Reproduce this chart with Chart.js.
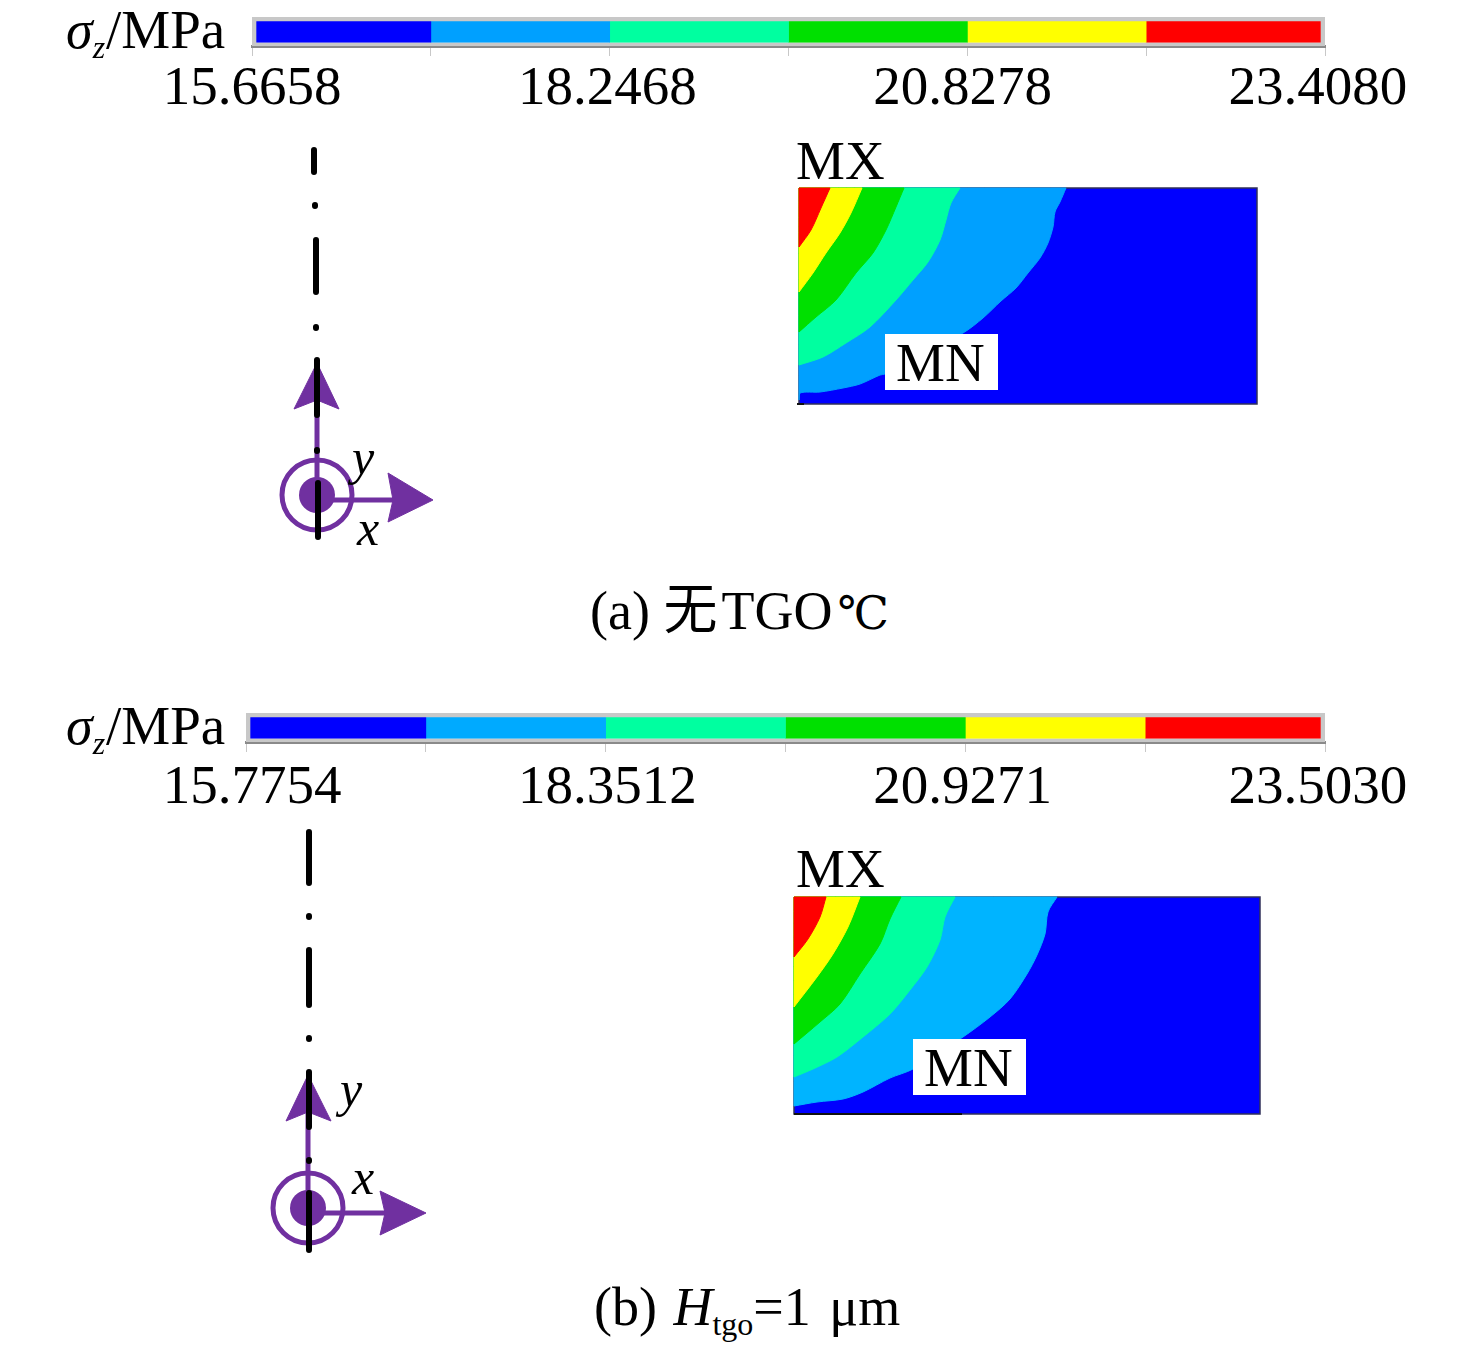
<!DOCTYPE html>
<html>
<head>
<meta charset="utf-8">
<script src="https://cdn.jsdelivr.net/npm/chart.js@4"></script>
<style>
	html, body { margin: 0; background: #fff; }
	body { position: relative; width: 1476px; height: 1354px; overflow: hidden; }
	canvas { position: absolute; }
	.t {
		position: absolute; white-space: nowrap; color: #000; line-height: 1; z-index: 3;
		font-family: "Liberation Serif", "Noto Sans CJK SC", serif; font-size: 55px;
	}
	.t i { font-style: italic; }
	.t sub { font-size: 32px; line-height: 0; vertical-align: baseline; position: relative; top: 10px; }
	.box { position: absolute; background: #fff; z-index: 2; }
</style>
</head>
<body>
<div class="t" style="left:66px;top:2px;font-size:54px"><i>σ<sub>z</sub></i><span style="margin-left:1px;font-size:55px">/MPa</span></div>
<div class="t" style="left:796px;top:133px">MX</div>
<div class="box" style="left:885px;top:334px;width:113px;height:56px"></div>
<div class="t" style="left:896px;top:335px">MN</div>
<div class="t" style="left:352px;top:432px;font-size:50px"><i>y</i></div>
<div class="t" style="left:357px;top:503px;font-size:50px"><i>x</i></div>
<div class="t" style="left:590px;top:584px;font-size:54px">(a) 无<span style="margin-left:4px">TGO</span><span style="font-family:'DejaVu Serif','Noto Sans CJK SC';font-size:46px;margin-left:5px">℃</span></div>

<div class="t" style="left:66px;top:698px;font-size:54px"><i>σ<sub>z</sub></i><span style="margin-left:1px;font-size:55px">/MPa</span></div>
<div class="t" style="left:796px;top:841px">MX</div>
<div class="box" style="left:913px;top:1039px;width:113px;height:56px"></div>
<div class="t" style="left:924px;top:1040px">MN</div>
<div class="t" style="left:340px;top:1064px;font-size:50px"><i>y</i></div>
<div class="t" style="left:352px;top:1152px;font-size:50px"><i>x</i></div>
<div class="t" style="left:594px;top:1280px;font-size:54px">(b) <i style="margin-left:3px">H</i><sub>tgo</sub>=1<span style="margin-left:5px"> μm</span></div>

<canvas id="barA" width="1476" height="118" style="left:0;top:0"></canvas>
<canvas id="fieldA" width="466" height="224" style="left:795px;top:184px"></canvas>
<canvas id="axesA" width="200" height="420" style="left:257px;top:135px"></canvas>
<canvas id="barB" width="1476" height="118" style="left:0;top:696px"></canvas>
<canvas id="fieldB" width="474" height="225" style="left:790px;top:893px"></canvas>
<canvas id="axesB" width="200" height="450" style="left:248px;top:818px"></canvas>

<script>
// contour band colours, lowest level first
const bandColorsA = ["#0000ff", "#00a0ff", "#00ffa0", "#00e000", "#ffff00", "#ff0000"];
const bandColorsB = ["#0000ff", "#00aaff", "#00ffa0", "#00e000", "#ffff00", "#ff0000"];
const fieldColorsB = ["#0000ff", "#00b4ff", "#00ffa0", "#00e000", "#ffff00", "#ff0000"];

// colour bar levels
const levelsA = [15.6658, 16.9562, 18.2468, 19.5372, 20.8278, 22.1176, 23.408];
const levelsB = [15.7754, 17.0633, 18.3512, 19.6392, 20.9271, 22.2151, 23.503];
const tickLabelsA = ["15.6658", "18.2468", "20.8278", "23.4080"];
const tickLabelsB = ["15.7754", "18.3512", "20.9271", "23.5030"];

// contour boundaries of panel (a): [distance from left, depth from top]
const boxA = [458, 216];
const lightBlueA = [[267, 0], [261, 14], [256, 24], [254, 39], [249, 55], [241, 70], [229, 85], [217, 100], [202, 113], [184, 130], [164, 145], [86, 186], [81, 187], [61, 196], [44, 200], [21, 204], [1, 205], [0, 212]];
const springA = [[161, 0], [152, 15], [147, 32], [141, 52], [129, 74], [114, 92], [97, 112], [71, 139], [47, 155], [24, 169], [0, 177]];
const greenA = [[105, 0], [97, 19], [87, 42], [74, 65], [57, 85], [37, 112], [17, 129], [0, 144]];
const yellowA = [[63, 0], [52, 25], [41, 45], [27, 65], [14, 85], [0, 104]];
const redA = [[31, 0], [22, 20], [12, 42], [0, 59]];
const edgeA = [[-2, 127], [-2, 216], [5, 216]];

// contour boundaries of panel (b)
const boxB = [466, 217];
const lightBlueB = [[263, 0], [254, 15], [251, 37], [243, 58], [233, 77], [216, 102], [196, 120], [169, 140], [119, 172], [96, 181], [69, 195], [49, 202], [23, 205], [0, 209]];
const springB = [[161, 0], [151, 20], [146, 43], [133, 70], [116, 93], [96, 117], [69, 140], [43, 160], [19, 172], [0, 180]];
const greenB = [[107, 0], [96, 22], [86, 47], [66, 77], [46, 107], [26, 125], [0, 147]];
const yellowB = [[66, 0], [54, 30], [39, 57], [23, 80], [0, 110]];
const redB = [[32, 0], [26, 20], [14, 42], [0, 60]];
const edgeB = [[0, 217], [168, 217]];

// coordinate symbol, origin on the circle centre
const centerLineA = [[-3, 345], [-3, 323], null, [-2, 290], [-2, 289], null, [-1, 255], [-1, 203], null, [-1, 168], [-1, 167], null, [0, 135], [0, 80], null, [0, 45], [0, 44], null, [1, 12], [1, -42]];
const upArrowA = [[0, 132], [-23, 86], [0, 95], [22, 86]];
const rightArrowA = [[71, 22], [116, -5], [71, -27], [76, -5]];
const centerLineB = [[1, 376], [1, 325], null, [1, 292], [1, 291], null, [1, 258], [1, 203], null, [1, 170], [1, 169], null, [1, 136], [1, 81], null, [1, 48], [1, 47], null, [1, 15], [1, -42]];
const upArrowB = [[0, 133], [-22, 87], [0, 96], [23, 87]];
const rightArrowB = [[72, 17], [118, -5], [72, -27], [77, -5]];

const purple = "#7030a0";
const serif = "'Liberation Serif', serif";

function toPoints(list) {
	return list.map((p) => (p ? { x: p[0], y: p[1] } : { x: null, y: null }));
}

const quiet = { legend: { display: false }, tooltip: { enabled: false } };

function createColorBar(id, levels, tickLabels, colors, labelMin, labelMax, padLeft, labelPad) {
	const tickValues = tickLabels.map(Number);
	const bands = colors.map((color, i) => ({
		data: [[levels[i], levels[i + 1]]],
		backgroundColor: color,
		barThickness: 22,
		borderWidth: 0,
	}));
	new Chart(document.getElementById(id), {
		type: "bar",
		data: {
			labels: ["σz"],
			datasets: [
				{
					// grey frame round the bar
					data: [[levels[0], levels[6]]],
					backgroundColor: "rgba(0,0,0,0)",
					borderColor: "#c8c8c8",
					borderWidth: { left: 4, right: 4, top: 4, bottom: 3 },
					borderSkipped: false,
					barPercentage: 1,
					categoryPercentage: 1,
				},
				...bands,
			],
		},
		options: {
			indexAxis: "y",
			responsive: false,
			animation: false,
			layout: { padding: { left: padLeft, right: 151, top: 17, bottom: 0 } },
			plugins: quiet,
			datasets: { bar: { grouped: false } },
			scales: {
				y: { display: false },
				x: {
					min: levels[0],
					max: levels[6],
					z: 1,
					position: "bottom",
					afterBuildTicks: (scale) => {
						scale.ticks = levels.map((value) => ({ value }));
					},
					afterFit: (scale) => {
						scale.height = 11;
					},
					ticks: { display: false },
					grid: { drawOnChartArea: false, color: "#c8c8c8", tickLength: 10 },
					border: { color: "#8a8a8a", width: 3 },
				},
				xLabels: {
					type: "linear",
					axis: "x",
					position: "bottom",
					min: labelMin,
					max: labelMax,
					afterBuildTicks: (scale) => {
						scale.ticks = tickValues.map((value) => ({ value }));
					},
					afterFit: (scale) => {
						scale.height = 61;
					},
					ticks: {
						autoSkip: false,
						maxRotation: 0,
						padding: labelPad,
						color: "#000",
						font: { family: serif, size: 55 },
						callback: (value, i) => tickLabels[i],
					},
					grid: { display: false },
					border: { display: false },
				},
			},
		},
	});
}

function createField(id, box, bandCurves, colors, edge) {
	const polygons = bandCurves.map((curve, i) => {
		const first = curve[0];
		const last = curve[curve.length - 1];
		return {
			// end points doubled so the smoothing leaves the box corners sharp
			data: toPoints([first, ...curve, last, [0, 0], [0, 0], first]),
			backgroundColor: colors[i + 1],
			borderColor: colors[i + 1],
			borderWidth: 1,
			tension: 0.3,
			fill: "shape",
			showLine: true,
			pointRadius: 0,
			clip: false,
		};
	});
	polygons.reverse();
	new Chart(document.getElementById(id), {
		type: "scatter",
		data: {
			datasets: [
				{ data: toPoints(edge), borderColor: "#111", borderWidth: 2, showLine: true, pointRadius: 0, clip: false },
				...polygons,
				{
					data: toPoints([[0, 0], [box[0], 0], [box[0], box[1]], [0, box[1]], [0, 0]]),
					backgroundColor: colors[0],
					borderColor: "#30305a",
					borderWidth: 1.5,
					fill: "shape",
					showLine: true,
					pointRadius: 0,
					clip: false,
				},
			],
		},
		options: {
			responsive: false,
			animation: false,
			layout: { padding: 4, autoPadding: false },
			plugins: quiet,
			scales: {
				x: { display: false, min: 0, max: box[0] },
				y: { display: false, min: 0, max: box[1], reverse: true },
			},
		},
	});
}

function createAxesSymbol(id, centerLine, upArrow, rightArrow, top) {
	const arrow = (pts) => ({
		data: toPoints([...pts, pts[0]]),
		backgroundColor: purple,
		borderColor: purple,
		borderWidth: 1,
		fill: "shape",
		showLine: true,
		pointRadius: 0,
	});
	const tipY = upArrow[2][1];
	const stemY = rightArrow[3][1];
	new Chart(document.getElementById(id), {
		type: "scatter",
		data: {
			datasets: [
				{
					data: toPoints(centerLine),
					borderColor: "#000",
					borderWidth: 6,
					borderCapStyle: "round",
					showLine: true,
					pointRadius: 0,
				},
				arrow(upArrow),
				arrow(rightArrow),
				{ data: toPoints([[0, 0], [0, tipY]]), borderColor: purple, borderWidth: 5, showLine: true, pointRadius: 0 },
				{ data: toPoints([[0, stemY], [rightArrow[3][0], stemY]]), borderColor: purple, borderWidth: 5, showLine: true, pointRadius: 0 },
				{ data: toPoints([[0, 0]]), pointRadius: 18, backgroundColor: purple, borderWidth: 0 },
				{ data: toPoints([[0, 0]]), pointRadius: 35, backgroundColor: "rgba(0,0,0,0)", borderColor: purple, borderWidth: 5 },
			],
		},
		options: {
			responsive: false,
			animation: false,
			layout: { padding: 0, autoPadding: false },
			plugins: quiet,
			scales: {
				x: { display: false, min: -60, max: 140 },
				y: { display: false, min: -60, max: top },
			},
		},
	});
}

createColorBar("barA", levelsA, tickLabelsA, bandColorsA, 15.6658, 23.459, 252, -8);
createColorBar("barB", levelsB, tickLabelsB, bandColorsB, 15.7319, 23.5538, 246, -5);
createField("fieldA", boxA, [lightBlueA, springA, greenA, yellowA, redA], bandColorsA, edgeA);
createField("fieldB", boxB, [lightBlueB, springB, greenB, yellowB, redB], fieldColorsB, edgeB);
createAxesSymbol("axesA", centerLineA, upArrowA, rightArrowA, 360);
createAxesSymbol("axesB", centerLineB, upArrowB, rightArrowB, 390);
</script>
</body>
</html>
